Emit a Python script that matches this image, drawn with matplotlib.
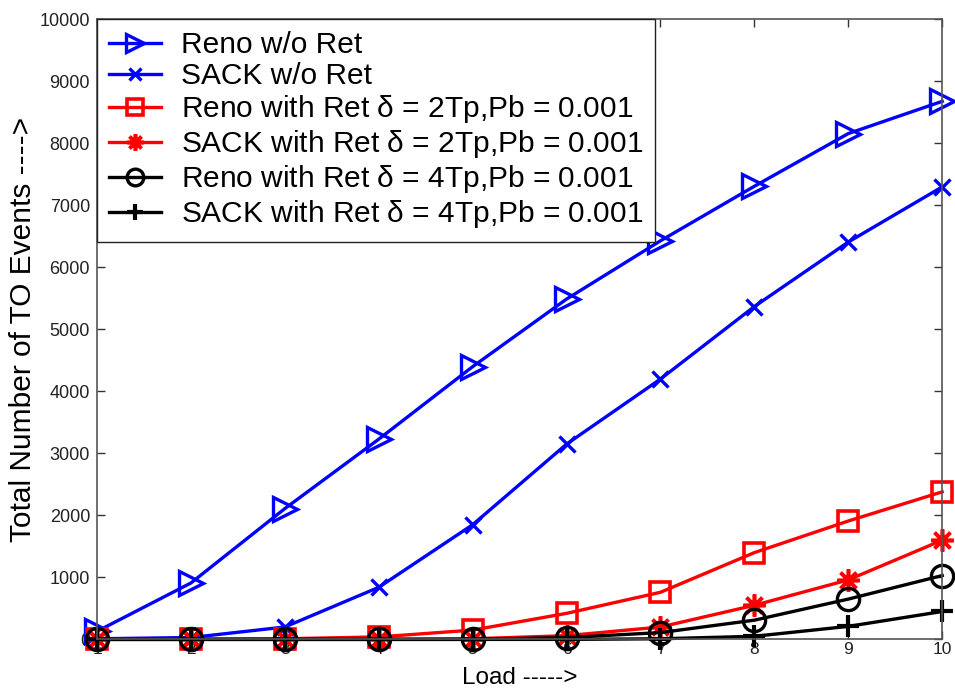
import numpy as np
import matplotlib.pyplot as plt

plt.rcParams['font.family'] = ['Liberation Sans', 'DejaVu Sans']
plt.rcParams['mathtext.fontset'] = 'custom'
plt.rcParams['mathtext.rm'] = 'Liberation Sans'
plt.rcParams['mathtext.it'] = 'Liberation Sans'

load = [1, 2, 3, 4, 5, 6, 7, 8, 9, 10]

reno_noret = [130, 910, 2110, 3230, 4400, 5490, 6430, 7310, 8160, 8680]
sack_noret = [10, 30, 200, 840, 1850, 3150, 4200, 5370, 6410, 7300]
reno_2tp = [0, 0, 10, 40, 150, 420, 760, 1400, 1910, 2380]
sack_2tp = [0, 0, 0, 0, 10, 60, 200, 550, 960, 1600]
reno_4tp = [0, 0, 0, 0, 0, 30, 110, 310, 650, 1030]
sack_4tp = [0, 0, 0, 0, 0, 0, 10, 50, 210, 450]

labels = ['Reno w/o Ret',
          'SACK w/o Ret',
          r'Reno with Ret $\delta$ = 2Tp,Pb = 0.001',
          r'SACK with Ret $\delta$ = 2Tp,Pb = 0.001',
          r'Reno with Ret $\delta$ = 4Tp,Pb = 0.001',
          r'SACK with Ret $\delta$ = 4Tp,Pb = 0.001']

fig = plt.figure(figsize=(9.55, 6.89), dpi=100)
ax = fig.add_axes([0.1016, 0.072, 0.885, 0.8997])

lw = 2.4
asterisk = (8, 2, 0)
ax.plot(load, reno_noret, color='#0000ff', lw=lw, marker='>', ms=17, mfc='none', mew=2.4, clip_on=False, label=labels[0])
ax.plot(load, sack_noret, color='#0000ff', lw=lw, marker='x', ms=12, mew=2.4, clip_on=False, label=labels[1])
ax.plot(load, reno_2tp, color='#ff0000', lw=lw, marker='s', ms=15, mfc='none', mew=2.6, clip_on=False, label=labels[2])
ax.plot(load, sack_2tp, color='#ff0000', lw=lw, marker=asterisk, ms=16, mew=2.6, clip_on=False, label=labels[3])
ax.plot(load, reno_4tp, color='black', lw=lw, marker='o', ms=16, mfc='none', mew=2.4, clip_on=False, label=labels[4])
ax.plot(load, sack_4tp, color='black', lw=lw, marker='+', ms=16, mew=3, clip_on=False, label=labels[5])

ax.set_xlim(1, 10)
ax.set_ylim(0, 10000)
ax.set_xticks(load)
ax.set_yticks(np.arange(0, 10001, 1000))
ax.tick_params(direction='in', length=6, width=1, top=True, right=True,
               labelsize=13, colors='#333333', labelcolor='#222222')
ax.tick_params(axis='x', pad=2, labelsize=12.5)
ax.tick_params(axis='y', pad=5)
for s in ax.spines.values():
    s.set_color('#555555')
    s.set_linewidth(1.2)

# x label sits flush with the bottom edge, under the tick numbers
pos = ax.get_position()
fig.text((pos.x0 + pos.x1) / 2, 0.0, 'Load ----->', fontsize=17.5,
         ha='center', va='bottom')
ax.set_ylabel('Total Number of TO Events ---->', fontsize=21.5, labelpad=2)

leg = ax.legend(loc='upper left', fontsize=21.5, frameon=True, fancybox=False,
                edgecolor='#222222', framealpha=1, borderaxespad=0,
                handlelength=1.75, handletextpad=0.65, labelspacing=0.1,
                borderpad=0.4, markerscale=0.75)
leg.get_frame().set_linewidth(1.0)

fig.savefig('out.png', dpi=100)
